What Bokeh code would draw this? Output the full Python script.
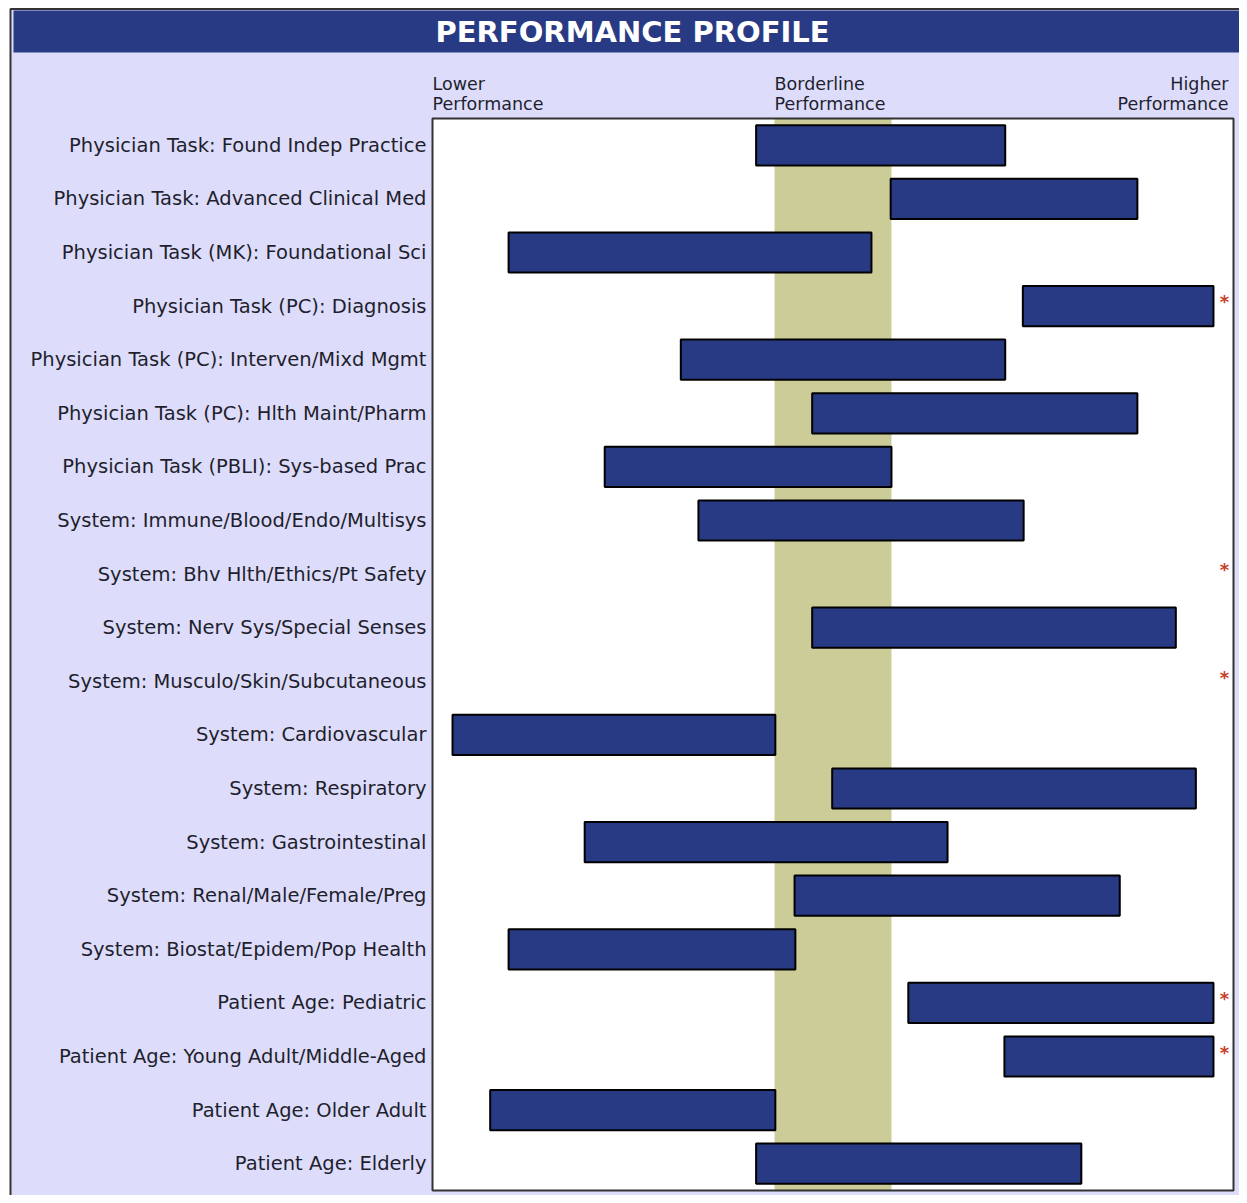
from bokeh.plotting import figure
from bokeh.models import Range1d, ColumnDataSource
from bokeh.core.properties import value
from bokeh.embed import file_html
from bokeh.resources import INLINE

# ---------------- data ----------------
categories = [
    "Physician Task: Found Indep Practice",
    "Physician Task: Advanced Clinical Med",
    "Physician Task (MK): Foundational Sci",
    "Physician Task (PC): Diagnosis",
    "Physician Task (PC): Interven/Mixd Mgmt",
    "Physician Task (PC): Hlth Maint/Pharm",
    "Physician Task (PBLI): Sys-based Prac",
    "System: Immune/Blood/Endo/Multisys",
    "System: Bhv Hlth/Ethics/Pt Safety",
    "System: Nerv Sys/Special Senses",
    "System: Musculo/Skin/Subcutaneous",
    "System: Cardiovascular",
    "System: Respiratory",
    "System: Gastrointestinal",
    "System: Renal/Male/Female/Preg",
    "System: Biostat/Epidem/Pop Health",
    "Patient Age: Pediatric",
    "Patient Age: Young Adult/Middle-Aged",
    "Patient Age: Older Adult",
    "Patient Age: Elderly",
]
# lower / upper edge of each performance band (0 = lower, 100 = higher); None = off scale
band_low = [40.4, 57.2, 9.5, 73.7, 31.0, 47.4, 21.5, 33.2, None, 47.4,
            None, 2.5, 49.9, 19.0, 45.2, 9.5, 59.4, 71.4, 7.2, 40.4]
band_high = [71.5, 88.0, 54.8, 97.5, 71.5, 88.0, 57.3, 73.8, None, 92.8,
             None, 42.8, 95.3, 64.3, 85.8, 45.3, 97.5, 97.5, 42.8, 81.0]
flagged = [False, False, False, True, False, False, False, False, True, False,
           True, False, False, False, False, False, True, True, False, False]
borderline = (42.7, 57.3)
header_left = ["Lower", "Performance"]
header_mid = ["Borderline", "Performance"]
header_right = ["Higher", "Performance"]
title_text = "PERFORMANCE PROFILE"

# ---------------- geometry of the canvas (pixels) ----------------
W, H = 1239, 1195
PX_L, PX_R, PX_T, PX_B = 432, 1233, 118, 1190     # plot box in canvas px
N = len(categories)
sx = (PX_R - PX_L) / 100.0
sy = (PX_B - PX_T) / N

def X(px):
    return (px - PX_L) / sx

def Y(py):
    return N - (py - PX_T) / sy

p = figure(width=W, height=H, output_backend="svg", toolbar_location=None,
           x_range=Range1d(X(0), X(W)), y_range=Range1d(Y(H), Y(0)),
           x_axis_location=None, y_axis_location=None,
           min_border=0, min_border_left=0, min_border_right=0,
           min_border_top=0, min_border_bottom=0)
p.xgrid.visible = False
p.ygrid.visible = False
p.background_fill_color = "white"
p.border_fill_color = "white"
p.outline_line_color = None

lav = "#DDDDFB"
navy = "#283A84"
txt = "#1F1F2E"

# lavender panel with dark border
p.quad(left=[X(10)], right=[X(W + 50)], top=[Y(8.5)], bottom=[Y(H + 50)],
       fill_color=lav, line_color="#333333", line_width=2)
# title bar
p.quad(left=[X(13)], right=[X(W + 50)], top=[Y(10)], bottom=[Y(52)],
       fill_color=navy, line_color=None)
p.text(x=[X(632)], y=[Y(31)], text=[title_text], text_color="white",
       text_font=value("DejaVu Sans"), text_font_style="bold", text_font_size="29px",
       text_align="center", text_baseline="middle")

# plot box and borderline band
p.quad(left=[0], right=[100], bottom=[0], top=[N], fill_color="white", line_color=None)
p.quad(left=[borderline[0]], right=[borderline[1]], bottom=[0], top=[N],
       fill_color="#CCCC99", line_color=None)
p.quad(left=[0], right=[100], bottom=[0], top=[N], fill_color=None,
       line_color="#333333", line_width=2)

# header labels
for i, py in enumerate([83, 103]):
    common = dict(text_font=value("DejaVu Sans"), text_font_size="17.5px",
                  text_color=txt, text_baseline="middle")
    p.text(x=[0], y=[Y(py)], text=[header_left[i]], text_align="left", **common)
    p.text(x=[borderline[0]], y=[Y(py)], text=[header_mid[i]], text_align="left", **common)
    p.text(x=[X(1228)], y=[Y(py)], text=[header_right[i]], text_align="right", **common)

# row centres (top row first)
yc = [N - i - 0.5 for i in range(N)]

# category labels
p.text(x=[X(426)] * N, y=yc, text=categories, text_align="right", text_baseline="middle",
       text_font=value("DejaVu Sans"), text_font_size="19.5px", text_color=txt)

# bars
bars = dict(y=[], left=[], right=[])
for yy, lo, hi in zip(yc, band_low, band_high):
    if lo is not None and hi is not None:
        bars["y"].append(yy)
        bars["left"].append(lo)
        bars["right"].append(hi)
p.hbar(y="y", left="left", right="right", height=0.75, source=ColumnDataSource(bars),
       fill_color=navy, line_color="black", line_width=2)

# flags
fy = [yy + 0.08 for yy, f in zip(yc, flagged) if f]
stars = dict(y=fy, x=[X(1224)] * len(fy), t=["*"] * len(fy))
p.text(x="x", y="y", text="t", source=ColumnDataSource(stars),
       text_color="#C8402A", text_font_size="18px", text_align="center",
       text_baseline="middle", text_font_style="bold", text_font=value("DejaVu Sans"))

open("out.html", "w").write(file_html(p, INLINE))
